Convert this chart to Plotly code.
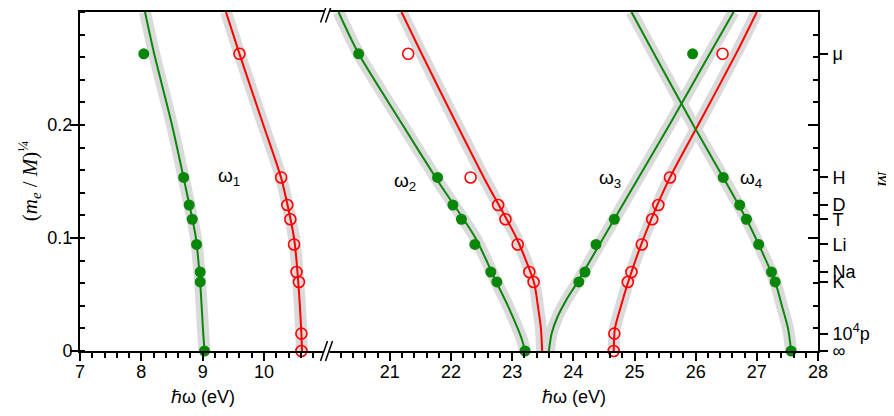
import plotly.graph_objects as go

# ---------------- data ----------------
mass_labels = ["μ", "H", "D", "T", "Li", "Na", "K", "10<sup>4</sup>p", "∞"]
mass_y = [0.263, 0.1536, 0.1292, 0.1166, 0.0943, 0.0699, 0.0611, 0.0154, 0.0]

# measured points (green = filled, red = open)
g1_x = [8.04, 8.69, 8.78, 8.83, 8.90, 8.96, 8.96, 9.03]
g1_y = [0.263, 0.1536, 0.1292, 0.1166, 0.0943, 0.0699, 0.0611, 0.0]
r1_x = [9.60, 10.28, 10.38, 10.43, 10.49, 10.53, 10.57, 10.61, 10.61]
r1_y = [0.263, 0.1536, 0.1292, 0.1166, 0.0943, 0.0699, 0.0611, 0.0154, 0.0]

g2_x = [20.49, 21.78, 22.03, 22.17, 22.39, 22.65, 22.75, 23.21]
g2_y = [0.263, 0.1536, 0.1292, 0.1166, 0.0943, 0.0699, 0.0611, 0.0]
r2_x = [21.30, 22.32, 22.77, 22.89, 23.09, 23.28, 23.35]
r2_y = [0.263, 0.1536, 0.1292, 0.1166, 0.0943, 0.0699, 0.0611]

g3_x = [25.95, 24.67, 24.37, 24.19, 24.09]
g3_y = [0.263, 0.1166, 0.0943, 0.0699, 0.0611]
r3_x = [26.44, 25.58, 25.39, 25.29, 25.12, 24.95, 24.89, 24.67, 24.66]
r3_y = [0.263, 0.1536, 0.1292, 0.1166, 0.0943, 0.0699, 0.0611, 0.0154, 0.0]

g4_x = [26.45, 26.72, 26.83, 27.03, 27.24, 27.30, 27.56]
g4_y = [0.1536, 0.1292, 0.1166, 0.0943, 0.0699, 0.0611, 0.0]

# theory curves
cg1_y = [0.0, 0.015, 0.06, 0.1, 0.153, 0.2, 0.263, 0.3]
cg1_x = [9.03, 9.01, 8.96, 8.89, 8.69, 8.50, 8.21, 8.06]
cr1_y = [0.0, 0.015, 0.06, 0.1, 0.153, 0.2, 0.263, 0.3]
cr1_x = [10.62, 10.61, 10.56, 10.49, 10.28, 9.99, 9.60, 9.38]

cg2_y = [0.0, 0.01, 0.02, 0.04, 0.06, 0.1, 0.15, 0.2, 0.263, 0.3]
cg2_x = [23.21, 23.16, 23.09, 22.93, 22.75, 22.40, 21.79, 21.21, 20.49, 20.16]
cr2_y = [0.0, 0.02, 0.04, 0.06, 0.1, 0.15, 0.2, 0.263, 0.3]
cr2_x = [23.49, 23.47, 23.42, 23.36, 23.07, 22.57, 22.10, 21.52, 21.19]

cg3_y = [0.0, 0.0155, 0.0301, 0.0448, 0.0603, 0.1, 0.15, 0.2, 0.263, 0.3]
cg3_x = [23.60, 23.645, 23.74, 23.88, 24.06, 24.49, 25.03, 25.57, 26.23, 26.62]
cr3_y = [0.0, 0.02, 0.04, 0.06, 0.1, 0.1536, 0.2, 0.263, 0.3]
cr3_x = [24.66, 24.68, 24.78, 24.89, 25.15, 25.58, 26.04, 26.66, 27.00]
cg4_y = [0.0, 0.02, 0.04, 0.0611, 0.0943, 0.1166, 0.1536, 0.2, 0.263, 0.3]
cg4_x = [27.56, 27.51, 27.41, 27.30, 27.03, 26.83, 26.45, 25.96, 25.32, 24.95]

left_ticks = [7, 8, 9, 10]
right_ticks = [21, 22, 23, 24, 25, 26, 27, 28]

GREEN = "#0a870a"
RED = "#ff0000"
BAND = "#dadada"

fig = go.Figure()

curves = [
    (cg1_x, cg1_y, GREEN, "x"), (cr1_x, cr1_y, RED, "x"),
    (cg2_x, cg2_y, GREEN, "x2"), (cr2_x, cr2_y, RED, "x2"),
    (cg3_x, cg3_y, GREEN, "x2"), (cr3_x, cr3_y, RED, "x2"),
    (cg4_x, cg4_y, GREEN, "x2"),
]
for cx, cy, col, xa in curves:
    fig.add_trace(go.Scatter(x=cx, y=cy, mode="lines", xaxis=xa, yaxis="y",
                             line=dict(color=BAND, width=12, shape="spline", smoothing=0.7),
                             hoverinfo="skip"))
for cx, cy, col, xa in curves:
    fig.add_trace(go.Scatter(x=cx, y=cy, mode="lines", xaxis=xa, yaxis="y",
                             line=dict(color=col, width=2, shape="spline", smoothing=0.7)))

pts_green = [(g1_x, g1_y, "x"), (g2_x, g2_y, "x2"), (g3_x, g3_y, "x2"), (g4_x, g4_y, "x2")]
pts_red = [(r1_x, r1_y, "x"), (r2_x, r2_y, "x2"), (r3_x, r3_y, "x2")]
for px_, py_, xa in pts_green:
    fig.add_trace(go.Scatter(x=px_, y=py_, mode="markers", xaxis=xa, yaxis="y", cliponaxis=False,
                             marker=dict(symbol="circle", size=11, color=GREEN, line=dict(width=0))))
for px_, py_, xa in pts_red:
    fig.add_trace(go.Scatter(x=px_, y=py_, mode="markers", xaxis=xa, yaxis="y", cliponaxis=False,
                             marker=dict(symbol="circle-open", size=11, color=RED,
                                         line=dict(width=1.6, color=RED))))

# dummy traces so the right-hand overlay axes exist
fig.add_trace(go.Scatter(x=[None], y=[None], xaxis="x2", yaxis="y2", showlegend=False))
fig.add_trace(go.Scatter(x=[None], y=[None], xaxis="x2", yaxis="y3", showlegend=False))

axis_common = dict(showline=True, linewidth=2, linecolor="black", mirror=True,
                   showgrid=False, zeroline=False, ticks="outside", ticklen=8,
                   tickwidth=1.5, tickcolor="black", ticklabelstandoff=-5,
                   tickfont=dict(size=18, color="black"))

# page body has an 8px margin: figure starts at (8, 8) of the window
fig.update_layout(
    width=886, height=408,
    margin=dict(l=72, r=76, t=1.5, b=65),
    plot_bgcolor="white", paper_bgcolor="white",
    showlegend=False,
    font=dict(family="Liberation Sans, Arial, sans-serif", size=18, color="black"),
    xaxis=dict(domain=[0, 0.332], range=[7, 10.995], tickmode="array", tickvals=left_ticks,
               anchor="y",
               minor=dict(dtick=0.2, tick0=7, ticks="outside", ticklen=5, tickwidth=1.5,
                          tickcolor="black", showgrid=False),
               **axis_common),
    xaxis2=dict(domain=[0.3374, 1], range=[20.005, 28], tickmode="array", tickvals=right_ticks,
                anchor="y",
                minor=dict(dtick=0.2, tick0=20, ticks="outside", ticklen=5, tickwidth=1.5,
                           tickcolor="black", showgrid=False),
                **axis_common),
    yaxis=dict(range=[0, 0.3], anchor="x", tickmode="array", tickvals=[0, 0.1, 0.2],
               ticktext=["0", "0.1", "0.2"],
               showline=True, linewidth=2, linecolor="black", mirror=False,
               showgrid=False, zeroline=False, ticks="outside", ticklen=8, tickwidth=1.5,
               tickcolor="black", tickfont=dict(size=18), ticklabelstandoff=-6,
               minor=dict(dtick=0.02, tick0=0, ticks="inside", ticklen=5, tickwidth=1.5,
                          tickcolor="black", showgrid=False)),
    yaxis2=dict(range=[0, 0.3], anchor="x2", overlaying="y", side="right",
                tickmode="array", tickvals=mass_y, ticktext=mass_labels,
                showline=True, linewidth=2, linecolor="black",
                showgrid=False, zeroline=False, ticks="outside", ticklen=8, tickwidth=1.5,
                tickcolor="black", tickfont=dict(size=18), ticklabelstandoff=1),
    yaxis3=dict(range=[0, 0.3], anchor="x2", overlaying="y", side="right",
                tickmode="array", tickvals=[0.1, 0.2], showticklabels=False,
                showline=False, showgrid=False, zeroline=False,
                ticks="inside", ticklen=10, tickwidth=1.5, tickcolor="black",
                minor=dict(dtick=0.02, tick0=0, ticks="inside", ticklen=5, tickwidth=1.5,
                           tickcolor="black", showgrid=False)),
)

# axis-break marks (positions given in window pixels -> paper coords)
def px2paper(px, py):
    return (px - 80) / 738.0, (351 - py) / 341.5

shapes = []
for yc in (351, 10):
    x0, y0 = px2paper(324, yc + 2)
    x1, y1 = px2paper(329.5, yc - 2)
    shapes.append(dict(type="rect", xref="paper", yref="paper", x0=x0, y0=y0, x1=x1, y1=y1,
                       fillcolor="white", line=dict(width=0), layer="above"))
    for dx in (0, 5):
        a = px2paper(320.5 + dx, yc + 10)
        b = px2paper(327.5 + dx, yc - 10)
        shapes.append(dict(type="line", xref="paper", yref="paper",
                           x0=a[0], y0=a[1], x1=b[0], y1=b[1],
                           line=dict(color="black", width=1.5), layer="above"))
fig.update_layout(shapes=shapes)

ann = []
for xc in ((202.5 - 80) / 738.0, (573.5 - 80) / 738.0):
    ann.append(dict(text="ℏω (eV)", xref="paper", yref="paper", x=xc, y=(351 - 397) / 341.5,
                    showarrow=False, xanchor="center", yanchor="middle",
                    font=dict(size=18, family="Liberation Sans, Arial, sans-serif")))
ann.append(dict(text="(<i>m</i><sub><i>e</i></sub> / <i>M</i>)<sup>¼</sup>",
                xref="paper", yref="paper", x=(29 - 80) / 738.0, y=(351 - 180) / 341.5,
                textangle=-90, showarrow=False, xanchor="center", yanchor="middle",
                font=dict(size=21, family="Liberation Serif, Times New Roman, serif")))
ann.append(dict(text="<i>M</i>", xref="paper", yref="paper", x=(885 - 80) / 738.0,
                y=(351 - 178) / 341.5, textangle=90, showarrow=False,
                xanchor="center", yanchor="middle",
                font=dict(size=19, family="Liberation Serif, Times New Roman, serif")))
omega = [("ω<sub>1</sub>", "x", 9.22, 0.154), ("ω<sub>2</sub>", "x2", 21.03, 0.150),
         ("ω<sub>3</sub>", "x2", 24.39, 0.152), ("ω<sub>4</sub>", "x2", 26.69, 0.152)]
for t, xa, xv, yv in omega:
    ann.append(dict(text=t, xref=xa, yref="y", x=xv, y=yv, showarrow=False,
                    xanchor="left", yanchor="middle", font=dict(size=19)))
fig.update_layout(annotations=ann)

fig.write_html("out.html")
